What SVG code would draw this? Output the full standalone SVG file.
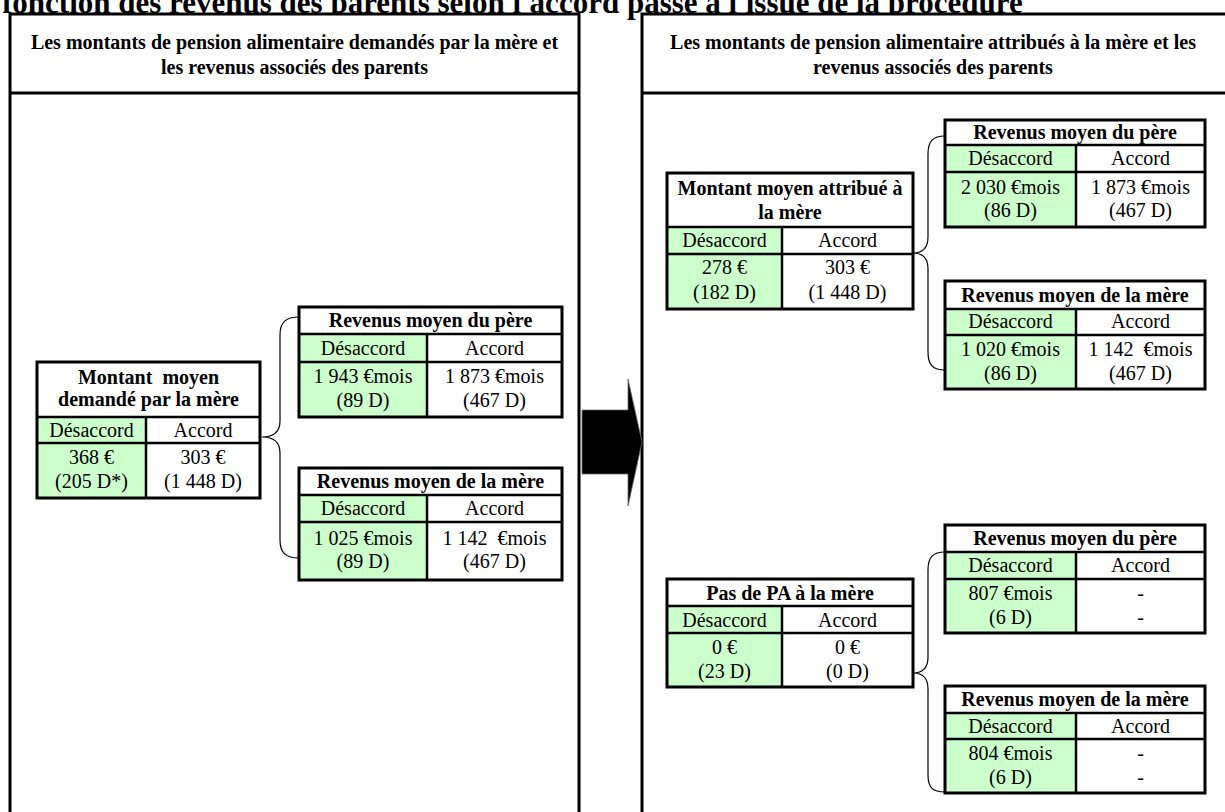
<svg xmlns="http://www.w3.org/2000/svg" width="1225" height="812" viewBox="0 0 1225 812">
<style>
text{font-family:"Liberation Serif","Times New Roman",serif;fill:#000}
.t{font-size:20px;text-anchor:middle}
.b{font-weight:bold}
.h{font-size:20px;font-weight:bold;text-anchor:middle}
.bg{fill:#fff}
.g{fill:#CCFFCC}
.box{fill:none;stroke:#000;stroke-width:3}
.ln{stroke:#000;stroke-width:2.5}
.panel{fill:#fff;stroke:#000;stroke-width:3}
.br{fill:none;stroke:#000;stroke-width:1.2}
</style>
<rect x="0" y="0" width="1225" height="812" fill="#fff"/>
<text x="2" y="13" style="font-size:31px;font-weight:bold">fonction des revenus des parents selon l'accord passé à l'issue de la procédure</text>

<g id="panel-left">
<rect class="panel" x="10" y="14" width="569" height="810"/>
<line class="ln" x1="10" y1="93" x2="579" y2="93" style="stroke-width:3"/>
<text class="h" x="294.5" y="49">Les montants de pension alimentaire demandés par la mère et</text>
<text class="h" x="294.5" y="74">les revenus associés des parents</text>
</g>

<g id="panel-right">
<rect class="panel" x="642" y="14" width="590" height="810"/>
<line class="ln" x1="642" y1="93" x2="1225" y2="93" style="stroke-width:3"/>
<text class="h" x="933" y="49">Les montants de pension alimentaire attribués à la mère et les</text>
<text class="h" x="933" y="74">revenus associés des parents</text>
</g>

<g id="arrow">
<polygon points="582,410 628,410 628,379 642,442 628,506 628,474 582,474" fill="#000" stroke="#666" stroke-width="0.8"/>
</g>

<g id="connectors">
<path class="br" d="M299,317 C286,317 280,322 280,335 L280,421 C280,432 273,437 262,437 C273,437 280,442 280,453 L280,540 C280,553 286,558 299,558"/>
<path class="br" d="M945,136 C933,136 928,141 928,154 L928,237 C928,248 922,253 913,253 C922,253 928,258 928,269 L928,352 C928,365 933,370 945,370"/>
<path class="br" d="M945,552 C933,552 928,557 928,570 L928,657 C928,668 922,673 913,673 C922,673 928,678 928,689 L928,775 C928,788 933,792 945,792"/>
</g>

<g id="node-demande">
<rect class="bg" x="37" y="362" width="223" height="136"/>
<rect class="g" x="37" y="417" width="109" height="81"/>
<line class="ln" x1="37" y1="417" x2="260" y2="417"/>
<line class="ln" x1="37" y1="443" x2="260" y2="443"/>
<line class="ln" x1="146" y1="417" x2="146" y2="498"/>
<rect class="box" x="37" y="362" width="223" height="136"/>
<text class="h" x="148.5" y="384" xml:space="preserve">Montant  moyen</text>
<text class="h" x="148.5" y="406">demandé par la mère</text>
<text class="t" x="91.5" y="437">Désaccord</text>
<text class="t" x="203" y="437">Accord</text>
<text class="t" x="91.5" y="464">368 €</text>
<text class="t" x="91.5" y="488">(205 D*)</text>
<text class="t" x="203" y="464">303 €</text>
<text class="t" x="203" y="488">(1 448 D)</text>
</g>

<g id="node-pere-gauche">
<rect class="bg" x="299" y="307" width="263" height="110"/>
<rect class="g" x="299" y="334" width="128" height="83"/>
<line class="ln" x1="299" y1="334" x2="562" y2="334"/>
<line class="ln" x1="299" y1="362" x2="562" y2="362"/>
<line class="ln" x1="427" y1="334" x2="427" y2="417"/>
<rect class="box" x="299" y="307" width="263" height="110"/>
<text class="h" x="430.5" y="327">Revenus moyen du père</text>
<text class="t" x="363" y="355">Désaccord</text>
<text class="t" x="494.5" y="355">Accord</text>
<text class="t" x="363" y="383">1 943 €mois</text>
<text class="t" x="363" y="407">(89 D)</text>
<text class="t" x="494.5" y="383">1 873 €mois</text>
<text class="t" x="494.5" y="407">(467 D)</text>
</g>

<g id="node-mere-gauche">
<rect class="bg" x="299" y="468" width="263" height="112"/>
<rect class="g" x="299" y="495" width="128" height="85"/>
<line class="ln" x1="299" y1="495" x2="562" y2="495"/>
<line class="ln" x1="299" y1="522" x2="562" y2="522"/>
<line class="ln" x1="427" y1="495" x2="427" y2="580"/>
<rect class="box" x="299" y="468" width="263" height="112"/>
<text class="h" x="430.5" y="488">Revenus moyen de la mère</text>
<text class="t" x="363" y="515">Désaccord</text>
<text class="t" x="494.5" y="515">Accord</text>
<text class="t" x="363" y="545">1 025 €mois</text>
<text class="t" x="363" y="568">(89 D)</text>
<text class="t" x="494.5" y="545" xml:space="preserve">1 142  €mois</text>
<text class="t" x="494.5" y="568">(467 D)</text>
</g>

<g id="node-attribue">
<rect class="bg" x="667" y="173" width="246" height="136"/>
<rect class="g" x="667" y="227" width="115" height="82"/>
<line class="ln" x1="667" y1="227" x2="913" y2="227"/>
<line class="ln" x1="667" y1="254" x2="913" y2="254"/>
<line class="ln" x1="782" y1="227" x2="782" y2="309"/>
<rect class="box" x="667" y="173" width="246" height="136"/>
<text class="h" x="790" y="195">Montant moyen attribué à</text>
<text class="h" x="790" y="219">la mère</text>
<text class="t" x="724.5" y="247">Désaccord</text>
<text class="t" x="847.5" y="247">Accord</text>
<text class="t" x="724.5" y="274">278 €</text>
<text class="t" x="724.5" y="299">(182 D)</text>
<text class="t" x="847.5" y="274">303 €</text>
<text class="t" x="847.5" y="299">(1 448 D)</text>
</g>

<g id="node-pere-droite-1">
<rect class="bg" x="945" y="120" width="260" height="107"/>
<rect class="g" x="945" y="145" width="131" height="82"/>
<line class="ln" x1="945" y1="145" x2="1205" y2="145"/>
<line class="ln" x1="945" y1="172" x2="1205" y2="172"/>
<line class="ln" x1="1076" y1="145" x2="1076" y2="227"/>
<rect class="box" x="945" y="120" width="260" height="107"/>
<text class="h" x="1075" y="139">Revenus moyen du père</text>
<text class="t" x="1010.5" y="165">Désaccord</text>
<text class="t" x="1140.5" y="165">Accord</text>
<text class="t" x="1010.5" y="194">2 030 €mois</text>
<text class="t" x="1010.5" y="217">(86 D)</text>
<text class="t" x="1140.5" y="194">1 873 €mois</text>
<text class="t" x="1140.5" y="217">(467 D)</text>
</g>

<g id="node-mere-droite-1">
<rect class="bg" x="945" y="281" width="260" height="108"/>
<rect class="g" x="945" y="309" width="131" height="80"/>
<line class="ln" x1="945" y1="309" x2="1205" y2="309"/>
<line class="ln" x1="945" y1="335" x2="1205" y2="335"/>
<line class="ln" x1="1076" y1="309" x2="1076" y2="389"/>
<rect class="box" x="945" y="281" width="260" height="108"/>
<text class="h" x="1075" y="302">Revenus moyen de la mère</text>
<text class="t" x="1010.5" y="328">Désaccord</text>
<text class="t" x="1140.5" y="328">Accord</text>
<text class="t" x="1010.5" y="356">1 020 €mois</text>
<text class="t" x="1010.5" y="380">(86 D)</text>
<text class="t" x="1140.5" y="356" xml:space="preserve">1 142  €mois</text>
<text class="t" x="1140.5" y="380">(467 D)</text>
</g>

<g id="node-pas-de-pa">
<rect class="bg" x="667" y="579" width="246" height="108"/>
<rect class="g" x="667" y="606" width="115" height="81"/>
<line class="ln" x1="667" y1="606" x2="913" y2="606"/>
<line class="ln" x1="667" y1="633" x2="913" y2="633"/>
<line class="ln" x1="782" y1="606" x2="782" y2="687"/>
<rect class="box" x="667" y="579" width="246" height="108"/>
<text class="h" x="790" y="600">Pas de PA à la mère</text>
<text class="t" x="724.5" y="627">Désaccord</text>
<text class="t" x="847.5" y="627">Accord</text>
<text class="t" x="724.5" y="654">0 €</text>
<text class="t" x="724.5" y="678">(23 D)</text>
<text class="t" x="847.5" y="654">0 €</text>
<text class="t" x="847.5" y="678">(0 D)</text>
</g>

<g id="node-pere-droite-2">
<rect class="bg" x="945" y="525" width="260" height="108"/>
<rect class="g" x="945" y="552" width="131" height="81"/>
<line class="ln" x1="945" y1="552" x2="1205" y2="552"/>
<line class="ln" x1="945" y1="579" x2="1205" y2="579"/>
<line class="ln" x1="1076" y1="552" x2="1076" y2="633"/>
<rect class="box" x="945" y="525" width="260" height="108"/>
<text class="h" x="1075" y="545">Revenus moyen du père</text>
<text class="t" x="1010.5" y="572">Désaccord</text>
<text class="t" x="1140.5" y="572">Accord</text>
<text class="t" x="1010.5" y="600">807 €mois</text>
<text class="t" x="1010.5" y="624">(6 D)</text>
<text class="t" x="1140.5" y="600">-</text>
<text class="t" x="1140.5" y="624">-</text>
</g>

<g id="node-mere-droite-2">
<rect class="bg" x="945" y="686" width="260" height="107"/>
<rect class="g" x="945" y="713" width="131" height="80"/>
<line class="ln" x1="945" y1="713" x2="1205" y2="713"/>
<line class="ln" x1="945" y1="739" x2="1205" y2="739"/>
<line class="ln" x1="1076" y1="713" x2="1076" y2="793"/>
<rect class="box" x="945" y="686" width="260" height="107"/>
<text class="h" x="1075" y="706">Revenus moyen de la mère</text>
<text class="t" x="1010.5" y="733">Désaccord</text>
<text class="t" x="1140.5" y="733">Accord</text>
<text class="t" x="1010.5" y="760">804 €mois</text>
<text class="t" x="1010.5" y="784">(6 D)</text>
<text class="t" x="1140.5" y="760">-</text>
<text class="t" x="1140.5" y="784">-</text>
</g>
</svg>
